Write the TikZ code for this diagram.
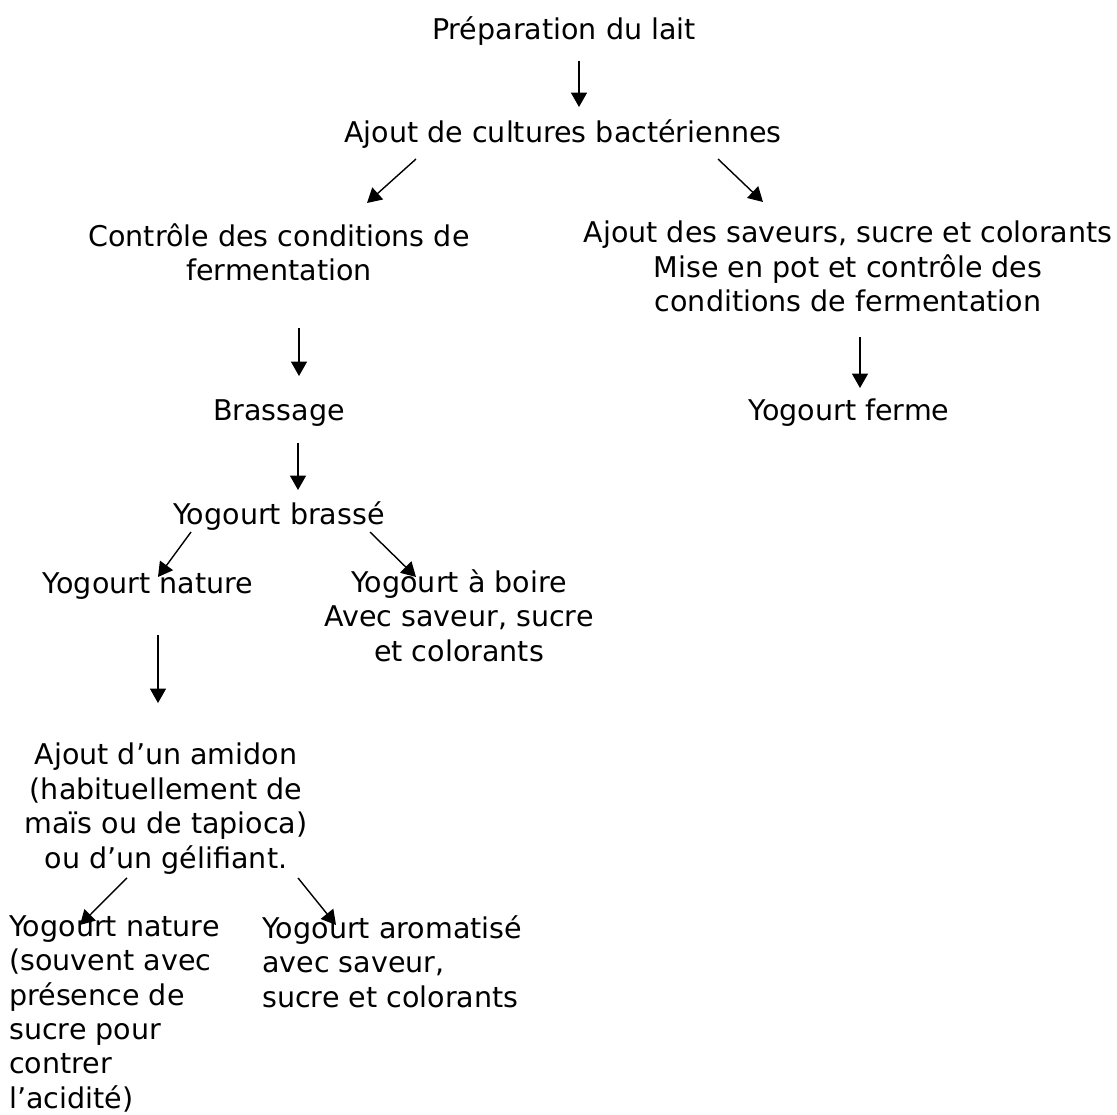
\documentclass[tikz,border=0pt]{standalone}
\usepackage{fontspec}
\setmainfont{DejaVu Sans}
\usetikzlibrary{arrows.meta,calc}

\tikzset{
  stage/.style={align=center, inner sep=0pt, anchor=north,
    font={\fontsize{20.3}{24.5}\selectfont},
    execute at begin node=\strut, execute at end node=\strut},
  leaf/.style={stage, align=left, anchor=north west},
  flow/.style={-{Triangle[length=3.6mm,width=4mm]}, line width=1pt}
}

\begin{document}
\begin{tikzpicture}[x=0.025cm, y=-0.025cm]
  \useasboundingbox (0,0) rectangle (1117,1115);
  % texts
  \node[stage] (prep) at (564,15) {Préparation du lait};
  \node[stage] (cult) at (563,118) {Ajout de cultures bactériennes};
  \node[stage] (ctrl) at (279,223) {Contrôle des conditions de\\fermentation};
  \node[stage] (sav) at (848,221) {Ajout des saveurs, sucre et colorants\\Mise en pot et contrôle des\\conditions de fermentation};
  \node[stage] (brass) at (279,396) {Brassage};
  \node[stage] (ferme) at (849,396) {Yogourt ferme};
  \node[stage] (brasse) at (279,500) {Yogourt brassé};
  \node[stage] (nat) at (148,569) {Yogourt nature};
  \node[stage] (boire) at (459,569) {Yogourt à boire\\Avec saveur, sucre\\et colorants};
  \node[stage] (amidon) at (166,743) {Ajout d’un amidon\\(habituellement de\\maïs ou de tapioca)\\ou d’un gélifiant.};
  \node[leaf] (natsucre) at (9,915) {Yogourt nature\\(souvent avec\\présence de\\sucre pour\\contrer\\l’acidité)};
  \node[leaf] (arom) at (262,915) {Yogourt aromatisé\\avec saveur,\\sucre et colorants};
  % arrows
  \draw[flow] ($(prep.south)+(15,11)$) -- ($(cult.north)+(16,-11)$);
  \draw[flow] ($(cult.south)+(-147,6)$) -- ($(ctrl.north)+(88,-20)$);
  \draw[flow] ($(cult.south)+(155,6)$) -- ($(sav.north)+(-85,-19)$);
  \draw[flow] ($(ctrl.south)+(20,37)$) -- ($(brass.north)+(20,-20)$);
  \draw[flow] ($(sav.south)+(12,15)$) -- ($(ferme.north)+(11,-8)$);
  \draw[flow] ($(brass.south)+(19,12)$) -- ($(brasse.north)+(19,-10)$);
  \draw[flow] ($(brasse.south)+(-88,-3)$) -- ($(nat.north)+(10,8)$);
  \draw[flow] ($(brasse.south)+(91,-3)$) -- ($(boire.north)+(-43,8)$);
  \draw[flow] ($(nat.south)+(10,31)$) -- ($(amidon.north)+(-8,-40)$);
  \draw[flow] ($(amidon.south)+(-39,-1)$) -- ($(natsucre.north west)+(71,10)$);
  \draw[flow] ($(amidon.south)+(132,-1)$) -- ($(arom.north west)+(74,10)$);
\end{tikzpicture}
\end{document}
